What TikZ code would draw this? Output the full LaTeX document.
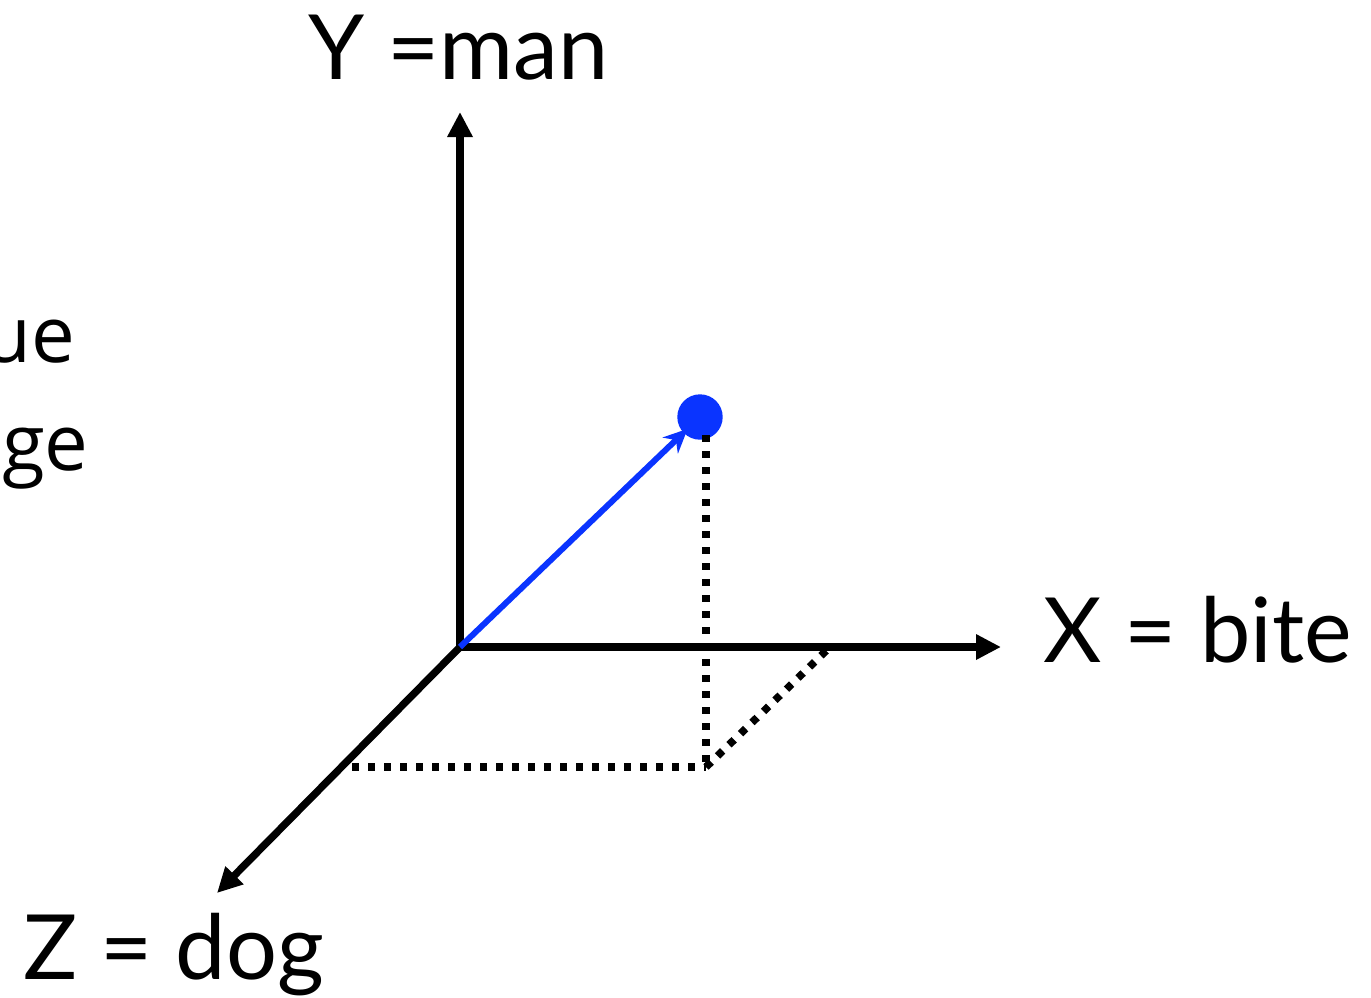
\documentclass[tikz,border=0pt]{standalone}
\usepackage{fontspec}
\setmainfont{Lato}
\newfontfamily\sidefont{Open Sans}
\usetikzlibrary{arrows.meta}
\definecolor{vecblue}{RGB}{10,52,255}
\tikzset{
  axis/.style={line width=3.7pt,-{Triangle[length=12.5pt,width=12pt]}},
  vec/.style={vecblue,line width=3pt,-{Stealth[length=12pt,width=11pt]}},
  dotline/.style={line width=3.8pt,dash pattern=on 3.6pt off 4.4pt},
  axlabel/.style={anchor=base west,inner sep=0pt,font=\fontsize{45}{50}\selectfont},
  sidelabel/.style={anchor=base east,inner sep=0pt,font=\sidefont\fontsize{39}{44}\selectfont},
  pointdot/.style={circle,fill=vecblue,minimum size=22.7pt,inner sep=0pt}
}
\begin{document}
\begin{tikzpicture}[x=0.5pt,y=-0.5pt]
\useasboundingbox (0,0) rectangle (1371,997);
\coordinate (O) at (460,647);
\coordinate (Ytip) at (460,112);
\coordinate (Xtip) at (1001,647);
\coordinate (Ztip) at (217,893);
\coordinate (Pbase) at (706,767);
\coordinate (Ptop) at (706,435);
\coordinate (Zp) at (352,767);
\coordinate (Xp) at (830,647);
\node[pointdot] (P) at (700,417) {};
% dotted projections
\draw[dotline] (Ptop) -- (Pbase);
\draw[dotline] (Zp) -- (Pbase);
\draw[dotline] (Pbase) -- (Xp);
% axes
\draw[axis] (O) -- (Ytip);
\draw[axis] (O) -- (Xtip);
\draw[axis] (O) -- (Ztip);
% vector
\draw[vec,shorten >=-3pt] (O) -- (P);
% labels
\node[axlabel] (ylab) at (308,79) {Y =man};
\node[axlabel] (xlab) at (1043,662) {X = bite};
\node[axlabel] (zlab) at (23,979) {Z = dog};
\node[sidelabel] (s1) at (76,362) {ue};
\node[sidelabel] (s2) at (89,470) {ge};
\end{tikzpicture}
\end{document}
